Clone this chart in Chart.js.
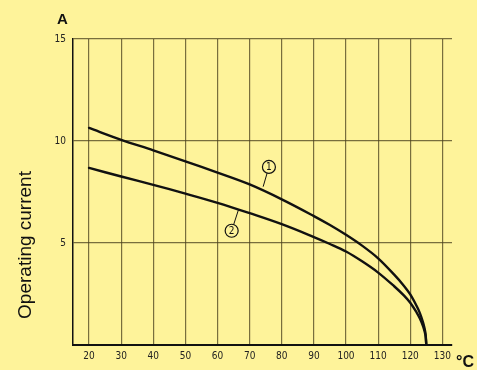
<!DOCTYPE html>
<html>
<head>
<meta charset="utf-8">
<script src="https://cdn.jsdelivr.net/npm/chart.js@4/dist/chart.umd.min.js"></script>
<style>
  html, body { margin: 0; padding: 0; background: #fef39a; }
  #wrap { width: 477px; height: 370px; position: relative; }
</style>
</head>
<body>
<div id="wrap"><canvas id="myChart"></canvas></div>
<script>
// temperature (°C) and operating current (A)
const temps    = [20, 30, 40, 50, 60, 70, 80, 90, 95, 100, 105, 110, 115, 118, 120, 122, 123, 124, 124.5, 124.8, 125];
const current1 = [10.64, 10.06, 9.54, 9.0, 8.45, 7.87, 7.14, 6.32, 5.88, 5.4, 4.87, 4.25, 3.45, 2.91, 2.48, 1.91, 1.56, 1.1, 0.78, 0.49, 0];
const current2 = [8.68, 8.26, 7.85, 7.42, 6.97, 6.46, 5.92, 5.29, 4.95, 4.58, 4.1, 3.55, 2.88, 2.43, 2.07, 1.59, 1.3, 0.92, 0.65, 0.41, 0];
const xTicks = [20, 30, 40, 50, 60, 70, 80, 90, 100, 110, 120, 130];
const yTicks = [0, 5, 10, 15];
const curveNames = ['1', '2'];

const ink = '#111';
const gridColor = 'rgba(75,65,30,0.75)';

const toPoints = (ys) => temps.map((t, i) => ({ x: t, y: ys[i] }));

// background, axis captions and circled curve labels
const decor = {
  id: 'decor',
  beforeDraw(chart) {
    const ctx = chart.ctx;
    ctx.save();
    ctx.fillStyle = '#fef39a';
    ctx.fillRect(0, 0, chart.width, chart.height);
    ctx.restore();
  },
  afterDraw(chart) {
    const ctx = chart.ctx;
    const xs = chart.scales.x, ys = chart.scales.y;
    ctx.save();
    ctx.fillStyle = ink;
    ctx.font = 'bold 15px "Liberation Sans", Arial, sans-serif';
    ctx.textBaseline = 'top';
    ctx.fillText('A', 57, 12);
    ctx.font = 'bold 16px "Liberation Sans", Arial, sans-serif';
    ctx.fillText('°C', 456, 355);

    ctx.font = '19px "Liberation Sans", Arial, sans-serif';
    ctx.translate(31, 245);
    ctx.rotate(-Math.PI / 2);
    ctx.textAlign = 'center';
    ctx.textBaseline = 'alphabetic';
    ctx.fillText('Operating current', 0, 0);
    ctx.restore();

    // circled numbers with leader lines (label pos, leader end, in data units)
    const marks = [
      { name: curveNames[0], at: [76.0, 8.73], tip: [74.2, 7.76] },
      { name: curveNames[1], at: [64.4, 5.6], tip: [66.5, 6.62] }
    ];
    ctx.save();
    ctx.strokeStyle = ink;
    ctx.fillStyle = ink;
    marks.forEach(m => {
      const cx = xs.getPixelForValue(m.at[0]);
      const cy = ys.getPixelForValue(m.at[1]);
      const tx = xs.getPixelForValue(m.tip[0]);
      const ty = ys.getPixelForValue(m.tip[1]);
      const r = 6.5;
      const a = Math.atan2(ty - cy, tx - cx);
      ctx.lineWidth = 1;
      ctx.beginPath();
      ctx.moveTo(cx + r * Math.cos(a), cy + r * Math.sin(a));
      ctx.lineTo(tx, ty);
      ctx.stroke();
      ctx.lineWidth = 1.2;
      ctx.beginPath();
      ctx.arc(cx, cy, r, 0, Math.PI * 2);
      ctx.stroke();
      ctx.font = '10px "DejaVu Sans Condensed", "DejaVu Sans", sans-serif';
      ctx.textAlign = 'center';
      ctx.textBaseline = 'middle';
      ctx.fillText(m.name, cx, cy + 0.5);
    });
    ctx.restore();
  }
};

new Chart(document.getElementById('myChart'), {
  type: 'scatter',
  data: {
    datasets: [
      { label: curveNames[0], data: toPoints(current1) },
      { label: curveNames[1], data: toPoints(current2) }
    ]
  },
  options: {
    responsive: true,
    maintainAspectRatio: false,
    animation: false,
    showLine: true,
    layout: { padding: { left: 0, right: 25, top: 39, bottom: 0 } },
    elements: {
      point: { radius: 0, hoverRadius: 0 },
      line: { borderColor: ink, borderWidth: 2.4, tension: 0.35, fill: false, borderCapStyle: 'round' }
    },
    plugins: { legend: { display: false }, tooltip: { enabled: false } },
    scales: {
      x: {
        type: 'linear',
        min: 15, max: 133,
        afterBuildTicks: (s) => { s.ticks = xTicks.map(v => ({ value: v })); },
        afterFit: (s) => { s.height = 25; },
        grid: { color: gridColor, lineWidth: 1.2, drawTicks: false },
        border: { color: ink, width: 2 },
        ticks: {
          color: '#222', padding: 5, maxRotation: 0, autoSkip: false,
          font: { family: '"DejaVu Sans Condensed", "DejaVu Sans", sans-serif', size: 10 }
        }
      },
      y: {
        min: 0, max: 15,
        afterBuildTicks: (s) => { s.ticks = yTicks.map(v => ({ value: v })); },
        afterFit: (s) => { s.width = 73; },
        grid: { color: gridColor, lineWidth: 1.2, drawTicks: false },
        border: { color: ink, width: 1.5 },
        ticks: {
          color: '#222', padding: 7,
          callback: (v) => v === 0 ? '' : v,
          font: { family: '"DejaVu Sans Condensed", "DejaVu Sans", sans-serif', size: 10 }
        }
      }
    }
  },
  plugins: [decor]
});
</script>
</body>
</html>
